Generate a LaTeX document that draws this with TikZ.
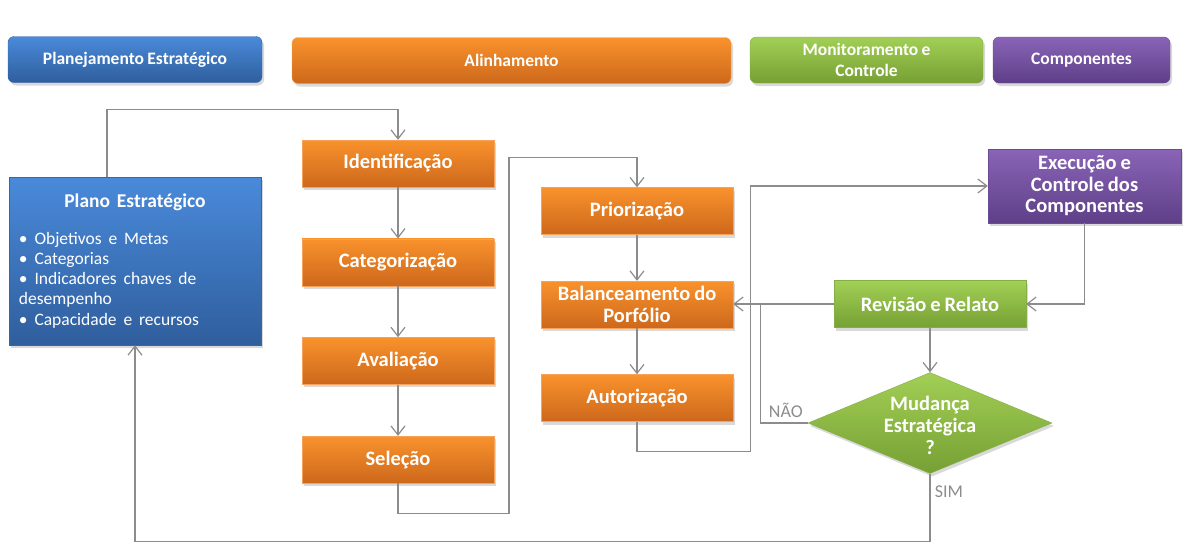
\documentclass[tikz,border=0pt]{standalone}
\usepackage{fontspec}
\setmainfont{Carlito}[WordSpace=0.85]
\usepackage{tikz}
\usetikzlibrary{positioning, shapes.geometric, arrows.meta, shadows}

\definecolor{OrangeTop}{HTML}{F9922C}
\definecolor{OrangeBot}{HTML}{CD681C}
\definecolor{OrangeLine}{HTML}{F7A25A}
\definecolor{BlueTop}{HTML}{4A8ADA}
\definecolor{BlueBot}{HTML}{2F5E9D}
\definecolor{BlueLine}{HTML}{3466A8}
\definecolor{GreenTop}{HTML}{A2CF55}
\definecolor{GreenBot}{HTML}{76A034}
\definecolor{GreenLine}{HTML}{86AE47}
\definecolor{PurpleTop}{HTML}{8A64B7}
\definecolor{PurpleBot}{HTML}{5E3F88}
\definecolor{PurpleLine}{HTML}{6B4A96}
\definecolor{LineGray}{HTML}{8C8C8C}

\begin{document}
\begin{tikzpicture}[x=1pt, y=-1pt, node distance=98.7pt, on grid,
    shadowed/.style  = {drop shadow={shadow xshift=2pt, shadow yshift=-3pt, opacity=0.3}},
    bluebox/.style   = {top color=BlueTop, bottom color=BlueBot, draw=BlueLine},
    orangebox/.style = {top color=OrangeTop, bottom color=OrangeBot, draw=OrangeLine},
    greenbox/.style  = {top color=GreenTop, bottom color=GreenBot, draw=GreenLine},
    purplebox/.style = {top color=PurpleTop, bottom color=PurpleBot, draw=PurpleLine},
    header/.style = {shadowed, rectangle, rounded corners=6pt, minimum height=46pt,
                     inner sep=2pt, align=center, text=white,
                     font=\bfseries\fontsize{17.5}{21}\selectfont},
    entry/.style  = {shadowed, rectangle, minimum width=192pt, minimum height=47pt,
                     inner sep=2pt, align=center, text=white,
                     font=\bfseries\fontsize{20.5}{21.5}\selectfont},
    decision/.style = {shadowed, diamond, minimum width=244pt, minimum height=101pt,
                       inner sep=0pt},
    answer/.style = {text=LineGray, font=\fontsize{18}{20}\selectfont},
    line/.style   = {draw=LineGray, line width=1.2pt},
    arrow/.style  = {line, -{Straight Barb[length=9pt, width=14pt]}}]

    \useasboundingbox (0,0) rectangle (1186,555);

    % Headers
    \node [header, bluebox, minimum width=254pt] (hplan) at (135,59.5) {Planejamento Estratégico};
    \node [header, orangebox, minimum width=439pt] (halign) at (511.5,60.5) {Alinhamento};
    \node [header, greenbox, minimum width=233pt] (hmonit) at (866.5,60) {Monitoramento e\\Controle};
    \node [header, purplebox, minimum width=177pt] (hcomp) at (1081.5,60) {Componentes};

    % States
    \node [entry, bluebox, minimum width=252pt, minimum height=168pt, text width=232pt, align=left] (plan) at (135,261)
        {{\centering\fontsize{19.5}{22}\selectfont Plano Estratégico\par}\vspace{17pt}
         \raggedright\mdseries\fontsize{17.5}{20}\selectfont
         • Objetivos e Metas\\ • Categorias\\ • Indicadores chaves de\\ desempenho\\ • Capacidade e recursos};

    \node [entry, orangebox] (ident) at (398,163.5) {Identificação};
    \node [entry, orangebox] (categ) [below=of ident] {Categorização};
    \node [entry, orangebox] (aval) [below=of categ] {Avaliação};
    \node [entry, orangebox] (sel) [below=of aval] {Seleção};

    \node [entry, orangebox] (prior) at (637,211) {Priorização};
    \node [entry, orangebox] (balanc) [below=93.5pt of prior] {Balanceamento do\\Porfólio};
    \node [entry, orangebox] (autor) [below=93.5pt of balanc] {Autorização};

    \node [entry, purplebox, minimum width=193pt, minimum height=74pt] (exec) at (1084.5,186)
        {Execução e\\Controle dos\\Componentes};
    \node [entry, greenbox] (rev) at (930,304) {Revisão e Relato};
    \node [decision, greenbox, label={[text=white, align=center, yshift=-2pt,
        font=\bfseries\fontsize{20.5}{22}\selectfont]center:Mudança\\Estratégica\\?}] (dec) [below=119pt of rev] {};

    % Transitions
    \draw [arrow] ([xshift=-28pt]plan.north) |- ([yshift=30pt]ident.north) -- (ident.north);
    \draw [arrow] (ident) -- (categ);
    \draw [arrow] (categ) -- (aval);
    \draw [arrow] (aval) -- (sel);
    \draw [arrow] (sel.south) -- +(0,30) -- +(111,30) |- ([yshift=30pt]prior.north) -- (prior.north);
    \draw [arrow] (prior) -- (balanc);
    \draw [arrow] (balanc) -- (autor);
    \draw [arrow] (autor.south) -- +(0,30) -| ([xshift=-237pt]exec.west) -- (exec.west);
    \draw [arrow] (exec.south) |- (rev.east);
    \draw [arrow] (rev.west) -- (rev.west -| balanc.east);
    \draw [arrow] (rev) -- (dec);
    \draw [line] (dec.west) -| ([xshift=-73pt]rev.west);
    \draw [arrow] (dec.south) -- +(0,68) -| (plan.south);
    \node [answer] (nao) at ([xshift=-22pt, yshift=13pt]dec.west) {NÃO};
    \node [answer] (sim) at ([xshift=19pt, yshift=-18.5pt]dec.south) {SIM};
\end{tikzpicture}
\end{document}
